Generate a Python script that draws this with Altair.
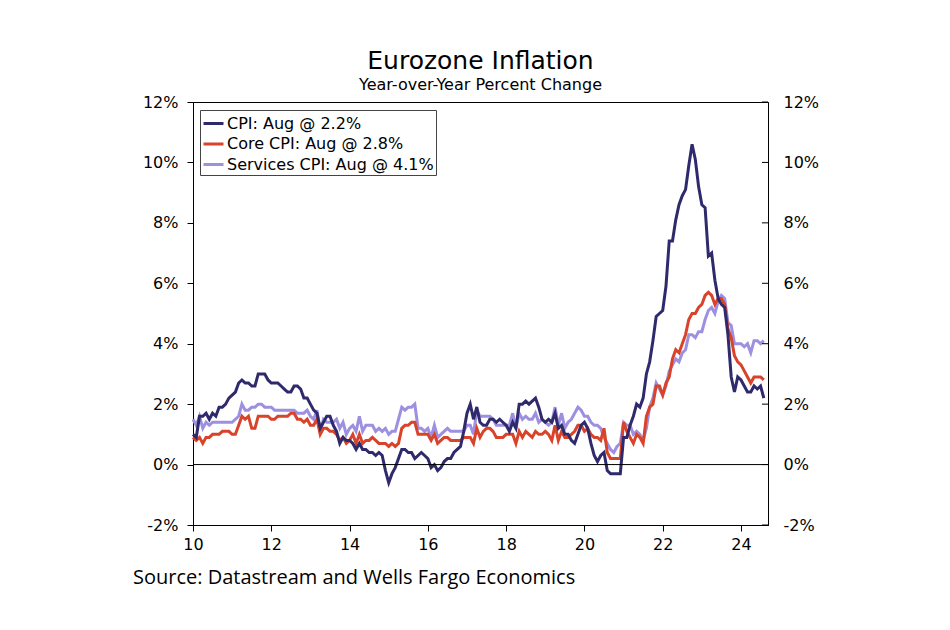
import altair as alt
import pandas as pd

# ---- data (monthly, Jan 2010 .. Aug 2024), year-over-year % change ----
cpi = [
    1.0, 0.9, 1.6, 1.6, 1.7, 1.5, 1.7, 1.6, 1.9, 1.9, 2.0, 2.2,   # 2010
    2.3, 2.4, 2.7, 2.8, 2.7, 2.7, 2.6, 2.6, 3.0, 3.0, 3.0, 2.8,   # 2011
    2.7, 2.7, 2.7, 2.6, 2.5, 2.4, 2.4, 2.6, 2.6, 2.5, 2.2, 2.2,   # 2012
    2.0, 1.8, 1.7, 1.2, 1.4, 1.6, 1.6, 1.3, 1.1, 0.7, 0.9, 0.8,   # 2013
    0.8, 0.7, 0.5, 0.7, 0.5, 0.5, 0.4, 0.4, 0.3, 0.4, 0.3, -0.2,  # 2014
    -0.6, -0.3, -0.1, 0.2, 0.5, 0.5, 0.4, 0.4, 0.2, 0.3, 0.4, 0.3,  # 2015
    0.2, -0.1, 0.0, -0.2, -0.1, 0.1, 0.2, 0.2, 0.4, 0.5, 0.6, 1.1,  # 2016
    1.7, 2.0, 1.5, 1.9, 1.4, 1.3, 1.3, 1.5, 1.5, 1.4, 1.5, 1.4,   # 2017
    1.3, 1.1, 1.4, 1.2, 2.0, 2.0, 2.1, 2.0, 2.1, 2.2, 1.9, 1.5,   # 2018
    1.4, 1.5, 1.4, 1.7, 1.2, 1.3, 1.0, 1.0, 0.8, 0.7, 1.0, 1.3,   # 2019
    1.4, 1.2, 0.7, 0.3, 0.1, 0.3, 0.4, -0.2, -0.3, -0.3, -0.3, -0.3,  # 2020
    0.9, 0.9, 1.3, 1.6, 2.0, 1.9, 2.2, 3.0, 3.4, 4.1, 4.9, 5.0,   # 2021
    5.1, 5.9, 7.4, 7.4, 8.1, 8.6, 8.9, 9.1, 9.9, 10.6, 10.1, 9.2,  # 2022
    8.6, 8.5, 6.9, 7.0, 6.1, 5.5, 5.3, 5.2, 4.3, 2.9, 2.4, 2.9,   # 2023
    2.8, 2.6, 2.4, 2.4, 2.6, 2.5, 2.6, 2.2,                       # 2024
]
core = [
    0.9, 0.8, 0.9, 0.7, 0.9, 0.9, 1.0, 1.0, 1.0, 1.1, 1.1, 1.1,
    1.0, 1.0, 1.3, 1.6, 1.5, 1.6, 1.2, 1.2, 1.6, 1.6, 1.6, 1.6,
    1.5, 1.5, 1.6, 1.6, 1.6, 1.6, 1.7, 1.7, 1.5, 1.5, 1.4, 1.5,
    1.3, 1.3, 1.5, 1.0, 1.2, 1.2, 1.1, 1.1, 1.0, 0.8, 0.9, 0.7,
    0.8, 1.0, 0.7, 1.0, 0.7, 0.8, 0.8, 0.9, 0.8, 0.7, 0.7, 0.7,
    0.6, 0.7, 0.6, 0.7, 1.2, 1.3, 1.3, 1.4, 1.4, 1.0, 1.0, 1.0,
    1.0, 0.8, 1.0, 0.7, 0.8, 0.9, 0.9, 0.8, 0.8, 0.8, 0.8, 0.9,
    0.9, 0.9, 0.7, 1.2, 0.9, 1.1, 1.2, 1.2, 1.1, 0.9, 0.9, 0.9,
    1.0, 1.0, 1.0, 0.7, 1.1, 0.9, 1.1, 1.0, 0.9, 1.1, 1.0, 1.0,
    1.1, 1.0, 0.8, 1.3, 0.8, 1.1, 0.9, 0.9, 1.0, 1.1, 1.3, 1.3,
    1.1, 1.2, 1.0, 0.9, 0.9, 0.8, 1.2, 0.4, 0.2, 0.2, 0.2, 0.2,
    1.4, 1.1, 0.9, 0.7, 1.0, 0.9, 0.7, 1.6, 1.9, 2.0, 2.6, 2.6,
    2.3, 2.7, 2.9, 3.5, 3.8, 3.7, 4.0, 4.3, 4.8, 5.0, 5.0, 5.2,
    5.3, 5.6, 5.7, 5.6, 5.3, 5.5, 5.5, 5.3, 4.5, 4.2, 3.6, 3.4,
    3.3, 3.1, 2.9, 2.7, 2.9, 2.9, 2.9, 2.8,
]
services = [
    1.5, 1.3, 1.6, 1.2, 1.4, 1.3, 1.4, 1.4, 1.4, 1.4, 1.4, 1.4,
    1.4, 1.5, 1.6, 2.0, 1.8, 1.8, 1.9, 1.9, 2.0, 2.0, 1.9, 1.9,
    1.9, 1.8, 1.8, 1.8, 1.8, 1.8, 1.8, 1.8, 1.7, 1.7, 1.7, 1.8,
    1.6, 1.5, 1.8, 1.1, 1.5, 1.4, 1.4, 1.4, 1.5, 1.2, 1.4, 1.0,
    1.2, 1.3, 1.1, 1.6, 1.1, 1.3, 1.3, 1.3, 1.1, 1.2, 1.1, 1.2,
    1.0, 1.1, 1.1, 1.5, 1.9, 1.8, 1.9, 1.9, 2.0, 1.2, 1.2, 1.1,
    1.2, 0.9, 1.3, 0.9, 1.0, 1.1, 1.2, 1.1, 1.1, 1.1, 1.1, 1.1,
    1.3, 1.3, 1.0, 1.8, 1.6, 1.6, 1.6, 1.6, 1.5, 1.3, 1.3, 1.3,
    1.3, 1.3, 1.7, 1.2, 1.7, 1.5, 1.6, 1.5, 1.5, 1.7, 1.4, 1.5,
    1.4, 1.3, 1.4, 1.9, 1.3, 1.7, 1.2, 1.4, 1.5, 1.7, 1.9, 1.8,
    1.6, 1.6, 1.4, 1.3, 1.3, 1.2, 0.9, 0.7, 0.5, 0.4, 0.6, 0.7,
    1.4, 1.3, 1.3, 1.0, 1.1, 1.0, 0.8, 1.2, 1.9, 2.2, 2.7, 2.5,
    2.3, 2.6, 3.1, 3.3, 3.5, 3.4, 3.7, 3.8, 4.3, 4.3, 4.2, 4.4,
    4.4, 4.8, 5.1, 5.2, 5.0, 5.4, 5.6, 5.5, 4.7, 4.6, 4.0, 4.0,
    4.0, 3.9, 4.0, 3.7, 4.1, 4.1, 4.0, 4.1,
]
series_names = ["CPI: Aug @ 2.2%", "Core CPI: Aug @ 2.8%", "Services CPI: Aug @ 4.1%"]
series_colors = ["#2e2a6b", "#d8432a", "#9d90e0"]
x_ticks = [10, 12, 14, 16, 18, 20, 22, 24]
y_ticks = [-2, 0, 2, 4, 6, 8, 10, 12]
source_text = "Source: Datastream and Wells Fargo Economics"

start_year = 10  # 2010, axis shows two-digit years

rows = []
for name, vals in [(series_names[2], services), (series_names[1], core), (series_names[0], cpi)]:
    for i, v in enumerate(vals):
        rows.append({"t": start_year + i / 12.0, "v": v, "s": name})
df = pd.DataFrame(rows)

W, H = 575, 423
FONT = "DejaVu Sans"
x_dom = [10, 24.69]
y_dom = [-2, 12]

x_scale = alt.Scale(domain=x_dom, nice=False, zero=False)
y_scale = alt.Scale(domain=y_dom, nice=False, zero=False)

left_axis = alt.Axis(values=y_ticks, labelExpr="datum.value + '%'", title=None,
                     grid=False, orient="left", labelFont=FONT, labelFontSize=16,
                     labelColor="black", tickColor="black", tickSize=6,
                     domainColor="black", labelPadding=9, labelFlush=False)

lines = alt.Chart(df).mark_line(strokeWidth=3).encode(
    x=alt.X("t:Q", scale=x_scale,
            axis=alt.Axis(values=x_ticks, format="d", title=None, grid=False,
                          labelFont=FONT, labelFontSize=16, labelColor="black",
                          tickColor="black", tickSize=6, domainColor="black",
                          labelPadding=5, labelFlush=False)),
    y=alt.Y("v:Q", scale=y_scale, axis=left_axis),
    color=alt.Color("s:N", scale=alt.Scale(domain=series_names, range=series_colors),
                    legend=alt.Legend(title=None, orient="none", legendX=7, legendY=8,
                                      direction="vertical",
                                      strokeColor="#444444", fillColor="white",
                                      padding=2, symbolType="stroke", symbolSize=400,
                                      symbolStrokeWidth=3, labelFont=FONT,
                                      labelFontSize=16, labelColor="black",
                                      labelOffset=2, rowPadding=0.5, labelLimit=400)),
    order=alt.Order("s:N"),
    detail="s:N",
)

zero_df = pd.DataFrame({"v": [0]})
zero = alt.Chart(zero_df).mark_rule(color="black", strokeWidth=1).encode(
    y=alt.Y("v:Q", scale=y_scale, axis=left_axis)
)

src_df = pd.DataFrame({"src": [source_text]})
source = alt.Chart(src_df).mark_text(
    align="left", baseline="middle", fontSize=20, font="Open Sans", color="black"
).encode(text="src:N", x=alt.value(-60), y=alt.value(476))

left_group = alt.layer(lines, zero, source)

tick_df = pd.DataFrame({"yt": y_ticks})
right_axis = alt.Chart(tick_df).mark_rule(color="black", strokeWidth=1).encode(
    y=alt.Y("yt:Q", scale=y_scale,
            axis=alt.Axis(values=y_ticks, labelExpr="datum.value + '%'", title=None,
                          grid=False, orient="right", labelFont=FONT, labelFontSize=16,
                          labelColor="black", ticks=False, domainColor="black",
                          labelPadding=15, labelFlush=False)),
    x=alt.value(W - 6),
    x2=alt.value(W),
)

chart = alt.layer(left_group, right_axis).resolve_scale(y="independent").properties(
    width=W, height=H,
    title=alt.Title("Eurozone Inflation", subtitle="Year-over-Year Percent Change",
                    font=FONT, fontSize=25, fontWeight="normal", color="black",
                    subtitleFont=FONT, subtitleFontSize=16, subtitleColor="black",
                    anchor="middle", offset=1, subtitlePadding=3),
    autosize=alt.AutoSizeParams(type="none"),
    padding={"left": 185, "top": 94, "right": 150, "bottom": 80},
).configure_view(stroke="black", strokeWidth=1)

chart.save("out.html", embed_options={"renderer": "svg", "actions": False})
